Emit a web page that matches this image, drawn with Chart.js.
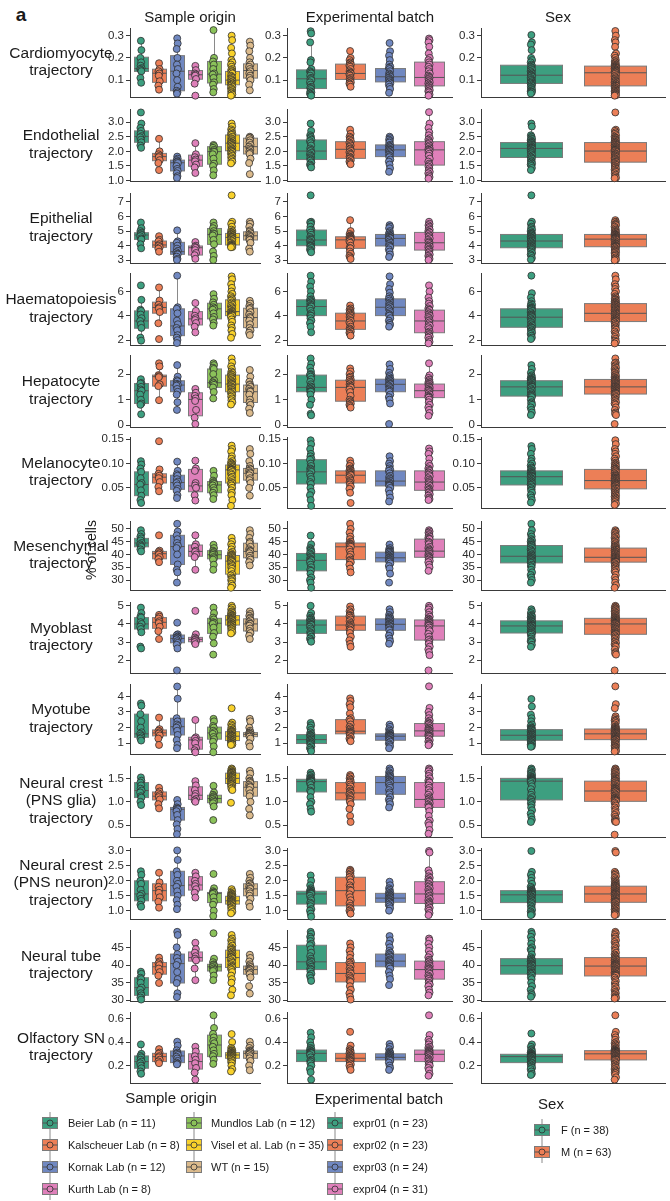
<!DOCTYPE html>
<html><head><meta charset="utf-8">
<script src="https://cdn.jsdelivr.net/npm/chart.js@4.4.1/dist/chart.umd.min.js"></script>
<style>
html,body{margin:0;padding:0;background:#fff;}
#fig{position:relative;width:670px;height:1201px;overflow:hidden;font-family:'Liberation Sans',Arial,Helvetica,sans-serif;color:#1a1a1a;}
.t{position:absolute;white-space:pre-line;text-align:center;transform:translate(-50%,-50%);}
.l{position:absolute;white-space:nowrap;font-size:11px;line-height:14px;}
canvas{position:absolute;}
</style></head><body><div id="fig"></div>
<script>
// ---------- categories ----------
const rowLabels = ["Cardiomyocyte\ntrajectory","Endothelial\ntrajectory","Epithelial\ntrajectory","Haematopoiesis\ntrajectory","Hepatocyte\ntrajectory","Melanocyte\ntrajectory","Mesenchymal\ntrajectory","Myoblast\ntrajectory","Myotube\ntrajectory","Neural crest\n(PNS glia)\ntrajectory","Neural crest\n(PNS neuron)\ntrajectory","Neural tube\ntrajectory","Olfactory SN\ntrajectory"];
const columnTitles = ["Sample origin","Experimental batch","Sex"];
const originGroups = ["Beier Lab","Kalscheuer Lab","Kornak Lab","Kurth Lab","Mundlos Lab","Visel et al. Lab","WT"];
const originN = [11,8,12,8,12,35,15];
const batchGroups = ["expr01","expr02","expr03","expr04"];
const batchN = [23,23,24,31];
const sexGroups = ["F","M"];
const sexN = [38,63];
const originColors = ['#3d9f80','#ec7f57','#7088c1','#df80ba','#8bc25a','#f8d12b','#dbba8c'];
const batchColors = ['#3d9f80','#ec7f57','#7088c1','#df80ba'];
const sexColors = ['#3d9f80','#ec7f57'];

// ---------- y axes: tick labels and limits per row ----------
const yTickLabels = [["0.1","0.2","0.3"],["1.0","1.5","2.0","2.5","3.0"],["3","4","5","6","7"],["2","4","6"],["0","1","2"],["0.05","0.10","0.15"],["30","35","40","45","50"],["2","3","4","5"],["1","2","3","4"],["0.5","1.0","1.5"],["1.0","1.5","2.0","2.5","3.0"],["30","35","40","45"],["0.2","0.4","0.6"]];
const yMin = [0.024,0.986,2.815,1.59,-0.067,0.0086,26.1,1.296,0.31,0.25,0.72,29.8,0.0515];
const yMax = [0.3345,3.448,7.61,7.52,2.745,0.1547,53.1,5.21,4.79,1.763,3.1,49.92,0.656];

// ---------- data: box stats [lower whisker, Q1, median, Q3, upper whisker] and points ----------
// group order: 7 sample origins, 4 batches, F, M
const cardioBox = [[.088,.139,.152,.203,.277],[.057,.09,.131,.149,.176],[.039,.052,.14,.21,.288],[.084,.104,.124,.143,.164],[.045,.087,.127,.184,.325],[.03,.079,.1,.139,.22],[.054,.109,.143,.173,.273],[.03,.062,.106,.146,.27],[.07,.103,.13,.172,.231],[.043,.092,.115,.152,.23],[.03,.074,.112,.181,.287],[.04,.085,.122,.167,.303],[.03,.074,.133,.163,.28]];
const cardioPts = [
[.277,.235,.2,.18,.165,.154,.15,.145,.14,.11,.088],
[.176,.15,.14,.13,.12,.095,.075,.057],
[.288,.265,.24,.2,.17,.15,.13,.1,.07,.052,.045,.039],
[.164,.145,.13,.125,.12,.105,.084,.03],
[.325,.2,.184,.17,.15,.13,.125,.11,.09,.08,.06,.045],
[.3,.28,.245,.22,.19,.18,.17,.16,.15,.145,.14,.135,.13,.12,.115,.11,.105,.1,.1,.095,.09,.09,.085,.08,.08,.075,.07,.065,.06,.055,.05,.045,.04,.035,.03],
[.273,.255,.23,.2,.18,.17,.16,.15,.14,.13,.12,.11,.1,.08,.054],
[.32,.31,.27,.19,.18,.15,.14,.135,.13,.12,.11,.105,.1,.09,.08,.07,.065,.06,.05,.045,.04,.035,.03],
[.231,.2,.19,.18,.175,.17,.165,.16,.15,.14,.135,.13,.13,.125,.12,.11,.105,.1,.095,.09,.085,.08,.07],
[.267,.23,.21,.19,.17,.16,.155,.15,.14,.13,.125,.12,.115,.11,.105,.1,.1,.095,.09,.085,.08,.07,.06,.043],
[.287,.28,.27,.25,.22,.2,.19,.18,.17,.16,.15,.14,.13,.12,.115,.11,.105,.1,.095,.09,.085,.08,.075,.07,.065,.06,.055,.05,.045,.035,.03],
[.303,.27,.26,.235,.2,.19,.18,.17,.165,.16,.155,.15,.145,.14,.135,.13,.125,.122,.12,.115,.11,.105,.1,.1,.095,.09,.085,.085,.08,.075,.07,.065,.06,.055,.05,.048,.045,.04],
[.321,.3,.28,.27,.25,.22,.21,.2,.19,.185,.18,.175,.17,.168,.165,.163,.161,.159,.157,.155,.152,.15,.148,.146,.144,.142,.14,.138,.136,.135,.134,.133,.128,.122,.118,.113,.108,.104,.1,.097,.093,.09,.087,.084,.08,.077,.075,.074,.07,.067,.064,.061,.058,.055,.052,.05,.047,.044,.041,.038,.035,.032,.03]];

const endoBox = [[2.12,2.31,2.51,2.7,2.95],[1.36,1.68,1.82,1.93,2.43],[1.09,1.33,1.61,1.7,1.82],[1.26,1.49,1.7,1.87,2.28],[1.18,1.56,1.99,2.16,2.22],[1.59,2.02,2.28,2.56,2.95],[1.22,1.91,2.16,2.45,2.5],[1.45,1.72,2.01,2.39,2.95],[1.56,1.76,2.07,2.33,2.74],[1.3,1.82,2.05,2.22,2.5],[1.07,1.53,2.05,2.33,3.34],[1.36,1.79,2.1,2.3,2.95],[1.08,1.63,2.01,2.3,2.74]];
const endoPts = [
[3.33,2.95,2.8,2.7,2.6,2.52,2.48,2.4,2.31,2.2,2.12],
[2.43,2.0,1.9,1.84,1.8,1.7,1.6,1.36],
[1.82,1.75,1.7,1.66,1.63,1.6,1.5,1.4,1.33,1.25,1.15,1.09],
[2.28,1.9,1.8,1.72,1.66,1.55,1.45,1.26],
[2.22,2.18,2.12,2.05,2.0,1.98,1.9,1.75,1.58,1.5,1.35,1.18],
[2.95,2.85,2.75,2.7,2.65,2.6,2.58,2.56,2.5,2.45,2.42,2.38,2.35,2.32,2.3,2.28,2.26,2.22,2.2,2.17,2.14,2.1,2.07,2.04,2.02,2.0,1.97,1.93,1.9,1.85,1.8,1.75,1.7,1.65,1.59],
[2.5,2.47,2.45,2.38,2.3,2.22,2.16,2.1,2.05,2.0,1.95,1.91,1.75,1.6,1.22],
[2.95,2.7,2.55,2.5,2.45,2.4,2.35,2.28,2.2,2.1,2.05,2.01,1.95,1.9,1.85,1.8,1.76,1.72,1.68,1.62,1.55,1.5,1.45],
[2.74,2.6,2.5,2.45,2.4,2.35,2.3,2.25,2.2,2.15,2.1,2.07,2.02,1.97,1.92,1.88,1.82,1.78,1.75,1.7,1.65,1.6,1.56],
[2.5,2.45,2.4,2.35,2.3,2.22,2.2,2.17,2.14,2.1,2.07,2.05,2.03,2.0,1.97,1.93,1.88,1.84,1.8,1.72,1.65,1.55,1.42,1.3],
[3.34,2.95,2.8,2.65,2.55,2.45,2.4,2.35,2.3,2.25,2.2,2.15,2.1,2.07,2.05,2.02,1.98,1.92,1.85,1.75,1.65,1.58,1.53,1.48,1.42,1.35,1.3,1.25,1.18,1.12,1.07],
[2.95,2.85,2.55,2.5,2.45,2.42,2.38,2.35,2.32,2.3,2.28,2.25,2.22,2.2,2.18,2.15,2.13,2.11,2.1,2.08,2.05,2.02,2.0,1.97,1.94,1.9,1.86,1.82,1.79,1.75,1.7,1.66,1.62,1.58,1.55,1.5,1.43,1.36],
[3.33,2.74,2.7,2.65,2.6,2.55,2.5,2.47,2.45,2.42,2.4,2.38,2.35,2.33,2.31,2.3,2.28,2.26,2.24,2.22,2.2,2.18,2.16,2.14,2.12,2.1,2.08,2.06,2.05,2.04,2.03,2.02,2.01,1.98,1.95,1.92,1.9,1.87,1.85,1.82,1.8,1.77,1.75,1.72,1.7,1.67,1.64,1.63,1.6,1.57,1.54,1.5,1.47,1.44,1.4,1.37,1.33,1.3,1.25,1.2,1.15,1.1,1.08]];

const epiBox = [[3.82,4.43,4.73,4.89,5.59],[3.59,3.89,4.05,4.32,4.65],[3.02,3.41,3.59,4.23,5.05],[3.1,3.36,3.86,3.98,4.25],[3.02,4.09,4.77,5.18,5.59],[3.89,4.05,4.57,4.84,5.64],[3.59,4.39,4.68,4.95,5.64],[3.55,4.0,4.39,5.07,5.64],[3.09,3.82,4.4,4.61,5.75],[3.23,3.98,4.5,4.77,5.41],[3.02,3.7,4.2,4.91,5.64],[3.05,3.86,4.32,4.77,5.64],[3.0,3.93,4.45,4.77,5.75]];
const epiPts = [
[5.59,5.2,5.0,4.89,4.8,4.73,4.65,4.5,4.43,4.1,3.82],
[4.65,4.4,4.3,4.1,4.0,3.9,3.8,3.59],
[5.05,4.3,4.2,4.0,3.8,3.65,3.55,3.45,3.4,3.25,3.1,3.02],
[4.25,4.0,3.92,3.85,3.7,3.5,3.35,3.1],
[5.59,5.35,5.2,5.0,4.85,4.8,4.7,4.4,4.1,3.6,3.3,3.02],
[7.45,5.64,5.5,5.3,5.1,5.0,4.95,4.9,4.85,4.8,4.78,4.75,4.7,4.66,4.63,4.6,4.58,4.57,4.5,4.45,4.4,4.35,4.3,4.2,4.12,4.08,4.05,4.03,4.0,3.98,3.96,3.95,3.93,3.91,3.89],
[5.64,5.5,5.3,5.05,4.95,4.85,4.75,4.68,4.6,4.5,4.42,4.39,4.2,3.8,3.59],
[7.45,5.64,5.6,5.5,5.3,5.1,5.07,4.9,4.75,4.6,4.5,4.42,4.39,4.3,4.2,4.1,4.03,4.0,3.95,3.85,3.75,3.65,3.55],
[5.75,5.0,4.8,4.7,4.65,4.62,4.6,4.55,4.5,4.47,4.44,4.41,4.4,4.3,4.2,4.0,3.85,3.82,3.6,3.45,3.3,3.2,3.09],
[5.41,5.3,5.2,5.0,4.9,4.8,4.77,4.7,4.65,4.6,4.55,4.52,4.5,4.4,4.3,4.2,4.1,4.0,3.98,3.9,3.75,3.6,3.4,3.23],
[5.64,5.5,5.4,5.3,5.2,5.1,5.0,4.92,4.91,4.8,4.7,4.6,4.5,4.4,4.3,4.22,4.2,4.1,4.0,3.95,3.9,3.8,3.72,3.7,3.6,3.5,3.4,3.3,3.2,3.1,3.02],
[7.45,5.64,5.5,5.3,5.2,5.1,5.0,4.9,4.85,4.8,4.77,4.7,4.65,4.6,4.55,4.5,4.45,4.4,4.35,4.32,4.28,4.22,4.15,4.1,4.05,4.0,3.95,3.9,3.86,3.8,3.75,3.7,3.6,3.5,3.4,3.3,3.15,3.05],
[5.75,5.64,5.6,5.5,5.45,5.4,5.3,5.2,5.1,5.05,5.0,4.95,4.9,4.85,4.8,4.78,4.77,4.75,4.72,4.7,4.68,4.65,4.62,4.6,4.58,4.55,4.53,4.5,4.48,4.47,4.46,4.45,4.44,4.4,4.35,4.3,4.25,4.2,4.15,4.12,4.1,4.06,4.03,4.0,3.98,3.96,3.94,3.93,3.88,3.82,3.75,3.7,3.65,3.6,3.55,3.5,3.42,3.35,3.3,3.2,3.12,3.05,3.0]];

const haemBox = [[1.95,2.97,3.57,4.4,5.31],[3.38,4.21,4.68,5.12,6.33],[1.75,2.36,3.16,4.57,7.3],[2.63,3.24,3.74,4.34,5.05],[3.19,3.74,4.57,5.03,5.78],[2.19,4.01,4.34,5.31,7.24],[2.41,3.02,3.85,4.62,5.23],[2.63,4.01,4.76,5.31,7.3],[2.36,2.88,3.57,4.21,4.84],[3.1,4.01,4.7,5.39,7.24],[1.72,2.6,3.57,4.46,6.5],[2.08,3.05,3.88,4.57,5.86],[1.72,3.52,4.2,5.0,7.3]];
const haemPts = [
[6.5,5.31,4.5,4.4,4.1,3.8,3.57,3.3,3.0,2.2,1.95],
[6.33,5.25,4.9,4.7,4.6,4.3,3.38,2.08],
[7.3,4.7,4.57,4.2,3.6,3.3,3.0,2.8,2.4,2.2,2.0,1.75],
[5.05,4.4,4.0,3.8,3.65,3.4,3.1,2.63],
[5.78,5.4,5.1,4.9,4.7,4.6,4.5,4.2,3.9,3.7,3.4,3.19],
[7.24,7.0,6.6,6.3,6.0,5.8,5.6,5.45,5.35,5.25,5.1,5.0,4.9,4.8,4.7,4.6,4.5,4.4,4.34,4.3,4.25,4.2,4.15,4.1,4.05,4.02,4.0,3.9,3.7,3.5,3.2,3.0,2.8,2.5,2.19],
[5.23,5.0,4.8,4.65,4.55,4.3,4.1,3.9,3.8,3.6,3.3,3.0,2.8,2.6,2.41],
[7.3,6.8,6.4,6.0,5.6,5.35,5.3,5.2,5.1,5.0,4.9,4.8,4.76,4.6,4.4,4.2,4.05,4.0,3.8,3.6,3.4,3.1,2.63],
[4.84,4.6,4.5,4.4,4.3,4.22,4.2,4.1,4.0,3.9,3.8,3.65,3.57,3.45,3.3,3.1,2.95,2.88,2.8,2.7,2.6,2.5,2.36],
[7.24,6.6,6.2,5.9,5.6,5.45,5.39,5.25,5.1,5.0,4.9,4.8,4.7,4.6,4.45,4.3,4.15,4.05,4.0,3.8,3.6,3.4,3.25,3.1],
[6.5,6.0,5.5,5.2,5.0,4.8,4.6,4.5,4.46,4.3,4.2,4.1,4.0,3.9,3.8,3.65,3.57,3.45,3.3,3.2,3.05,2.9,2.7,2.6,2.5,2.4,2.3,2.2,2.0,1.85,1.72],
[7.3,5.86,5.5,5.2,5.0,4.9,4.8,4.7,4.65,4.6,4.57,4.5,4.4,4.3,4.2,4.1,4.05,4.0,3.95,3.88,3.8,3.7,3.6,3.5,3.4,3.3,3.2,3.1,3.05,3.0,2.9,2.8,2.7,2.6,2.5,2.35,2.2,2.08],
[7.3,7.0,6.6,6.4,6.2,6.0,5.8,5.6,5.5,5.4,5.35,5.3,5.2,5.15,5.1,5.05,5.0,4.95,4.9,4.85,4.8,4.75,4.7,4.65,4.6,4.55,4.5,4.45,4.4,4.35,4.3,4.25,4.2,4.15,4.1,4.05,4.0,3.95,3.9,3.85,3.8,3.75,3.7,3.65,3.6,3.57,3.54,3.52,3.45,3.35,3.25,3.15,3.05,2.95,2.85,2.7,2.55,2.4,2.25,2.1,1.95,1.85,1.72]];

const hepaBox = [[0.43,0.85,1.35,1.63,1.8],[0.98,1.53,1.9,1.96,2.42],[0.6,1.31,1.57,1.74,2.35],[0.05,0.37,1.01,1.27,1.42],[1.05,1.48,1.66,2.2,2.42],[0.81,1.31,1.61,1.96,2.61],[0.48,0.89,1.31,1.57,2.16],[0.39,1.31,1.48,1.96,2.61],[0.69,0.94,1.48,1.76,2.22],[0.85,1.31,1.6,1.8,2.38],[0.37,1.08,1.35,1.61,2.42],[0.4,1.14,1.5,1.74,2.35],[0.4,1.22,1.5,1.79,2.61]];
const hepaPts = [
[1.8,1.65,1.63,1.5,1.4,1.35,1.2,1.0,0.85,0.8,0.43],
[2.42,2.3,1.96,1.92,1.88,1.6,1.53,0.98],
[2.35,1.9,1.76,1.72,1.62,1.58,1.55,1.42,1.31,1.2,0.9,0.6],
[1.42,1.27,1.15,1.05,0.95,0.6,0.3,0.05],
[2.42,2.35,2.25,2.2,2.0,1.75,1.68,1.64,1.58,1.48,1.3,1.05],
[2.61,2.45,2.3,2.2,2.1,2.05,2.0,1.98,1.96,1.92,1.88,1.84,1.8,1.76,1.72,1.68,1.65,1.62,1.6,1.57,1.53,1.5,1.46,1.42,1.38,1.33,1.31,1.27,1.22,1.17,1.12,1.05,0.98,0.9,0.81],
[2.16,1.9,1.7,1.6,1.57,1.5,1.42,1.35,1.31,1.2,1.0,0.89,0.8,0.65,0.48],
[2.61,2.4,2.25,2.1,2.0,1.97,1.96,1.9,1.8,1.7,1.6,1.52,1.48,1.44,1.4,1.35,1.32,1.31,1.2,1.0,0.8,0.45,0.39],
[2.22,2.1,2.0,1.9,1.85,1.78,1.76,1.7,1.65,1.6,1.55,1.5,1.48,1.4,1.3,1.15,1.0,0.94,0.9,0.85,0.8,0.75,0.69],
[2.38,2.2,2.05,1.95,1.88,1.82,1.8,1.76,1.72,1.68,1.64,1.61,1.6,1.55,1.5,1.45,1.4,1.35,1.31,1.2,1.1,1.0,0.85,0.05],
[2.42,1.95,1.85,1.78,1.72,1.68,1.65,1.62,1.61,1.57,1.53,1.5,1.46,1.42,1.38,1.36,1.35,1.3,1.25,1.2,1.15,1.12,1.09,1.08,1.0,0.9,0.8,0.7,0.6,0.48,0.37],
[2.35,2.2,2.05,1.95,1.9,1.85,1.82,1.8,1.78,1.76,1.74,1.7,1.67,1.64,1.61,1.58,1.55,1.53,1.51,1.5,1.45,1.4,1.35,1.3,1.25,1.2,1.17,1.15,1.14,1.1,1.0,0.9,0.85,0.8,0.7,0.6,0.5,0.4],
[2.61,2.45,2.42,2.35,2.3,2.25,2.2,2.15,2.1,2.05,2.0,1.96,1.92,1.88,1.85,1.82,1.79,1.77,1.75,1.73,1.71,1.69,1.67,1.65,1.63,1.61,1.59,1.57,1.55,1.53,1.52,1.51,1.5,1.47,1.45,1.43,1.41,1.39,1.37,1.35,1.33,1.31,1.29,1.27,1.25,1.24,1.23,1.22,1.18,1.14,1.1,1.05,1.0,0.95,0.9,0.85,0.8,0.7,0.6,0.5,0.45,0.4,0.05]];

const melaBox = [[.019,.034,.057,.083,.105],[.043,.06,.072,.079,.088],[.029,.047,.061,.076,.104],[.024,.042,.054,.088,.106],[.027,.04,.056,.063,.085],[.013,.06,.087,.097,.137],[.034,.066,.08,.09,.13],[.013,.058,.083,.108,.148],[.04,.06,.076,.085,.106],[.022,.054,.064,.085,.115],[.025,.045,.062,.085,.131],[.02,.056,.073,.085,.136],[.015,.048,.065,.088,.148]];
const melaPts = [
[.105,.098,.09,.083,.07,.06,.057,.045,.034,.025,.019],
[.146,.088,.079,.075,.07,.062,.052,.043],
[.104,.085,.078,.075,.068,.063,.06,.055,.048,.044,.035,.029],
[.106,.09,.085,.06,.055,.05,.035,.024],
[.085,.075,.065,.062,.06,.058,.055,.05,.045,.04,.035,.027],
[.137,.13,.125,.115,.11,.105,.102,.1,.098,.097,.095,.093,.092,.09,.089,.088,.087,.087,.086,.083,.08,.077,.073,.07,.066,.062,.06,.058,.055,.05,.045,.04,.035,.025,.013],
[.13,.12,.105,.095,.09,.088,.085,.082,.08,.076,.07,.066,.06,.05,.034],
[.148,.14,.13,.12,.115,.11,.108,.1,.095,.09,.088,.085,.083,.078,.073,.068,.062,.058,.05,.042,.035,.025,.013],
[.106,.1,.095,.09,.088,.086,.085,.083,.081,.08,.078,.077,.076,.072,.068,.065,.062,.06,.057,.053,.048,.04,.019],
[.115,.105,.1,.095,.09,.087,.085,.08,.075,.072,.069,.066,.064,.062,.06,.058,.056,.055,.054,.05,.045,.038,.03,.022],
[.131,.125,.12,.11,.1,.095,.09,.087,.085,.082,.08,.077,.074,.07,.067,.064,.062,.06,.057,.054,.051,.048,.046,.045,.042,.04,.037,.034,.03,.027,.025],
[.136,.13,.12,.11,.105,.1,.096,.092,.09,.087,.085,.083,.081,.08,.079,.078,.076,.075,.074,.073,.071,.069,.067,.065,.063,.061,.059,.057,.056,.053,.05,.047,.044,.04,.035,.03,.025,.02],
[.148,.14,.13,.125,.12,.115,.11,.106,.102,.1,.098,.096,.094,.092,.09,.089,.088,.086,.084,.082,.08,.078,.076,.075,.074,.072,.071,.07,.069,.068,.067,.066,.065,.064,.063,.062,.061,.06,.059,.058,.057,.056,.055,.054,.052,.05,.049,.048,.046,.044,.042,.04,.038,.036,.034,.032,.03,.028,.026,.024,.021,.018,.015]];

const mesBox = [[41.2,43,44.5,46.3,49.5],[37,38.3,40.3,41.2,41.5],[29,36.1,43.1,47.5,52],[34,39.3,41.2,43.7,47.5],[34,38.3,39.9,41.5,43.8],[27,32.3,37.4,39.6,46.5],[35.7,38.7,41.2,44.4,49.5],[27,33.6,37.7,40.4,47.4],[33,38,43,44.5,52],[32.5,37.1,38.7,40.9,43.9],[33.6,38.9,41.3,46,49.5],[29,36.7,39.3,43.5,52],[27,37,38.9,42.5,49.5]];
const mesPts = [
[49.5,48,47,46.3,45.5,44.5,44,43.5,43,42,41.2],
[47.5,41.5,41,40.5,40,39,38.2,37],
[52,49,47.5,46,44.5,43.5,42.5,40,36.1,34,33,29],
[47.5,44,43,41.5,41,40,39,34],
[43.8,42.5,41.5,41,40.5,40,39.8,39,38.5,38,36,34],
[46.5,45,44,43,42,41,40.5,40,39.8,39.6,39.3,39,38.7,38.4,38.1,37.9,37.7,37.5,37.4,37,36.5,36,35.5,35,34.4,33.5,32.3,31.8,31,30.5,30,29.5,28.5,27.8,27],
[49.5,48,46.5,45,44.4,43,42,41.5,41.2,40.5,39.5,38.7,38,37,35.7],
[47.4,44,42.5,42,41.5,41,40.4,39.8,39.2,38.6,38.2,37.9,37.7,37,36,35,34,33.6,32.5,31,30,29,27],
[52,50,48.5,47,46,45,44.5,44.2,44,43.7,43.4,43.2,43,42,41,40,39,38,37.5,37,36,34.5,33],
[43.9,42.5,42,41.6,41.2,41,40.9,40.5,40,39.6,39.2,38.9,38.7,38.5,38.2,38,37.7,37.4,37.1,36.5,35.5,34.5,32.5,29],
[49.5,49,48.5,48,47.5,47,46.5,46.2,46,45,44.5,44,43,42.5,42,41.6,41.3,41,40.5,40.2,39.8,39.4,39,38.9,38.5,38,37.5,37,36,35,33.6],
[52,49.5,48,47,46,45.5,45,44.5,44,43.8,43.5,43,42.5,42,41.5,41,40.5,40,39.6,39.3,39,38.8,38.6,38.3,38,37.7,37.3,37,36.7,36,35.5,35,34,33,32,31,30,29],
[49.5,49,48.5,48,47.5,47,46.5,46,45.5,45,44.5,44,43.5,43.2,43,42.7,42.5,42.2,42,41.8,41.5,41.2,41,40.7,40.5,40.2,40,39.8,39.5,39.3,39.1,39,38.9,38.7,38.5,38.4,38.3,38.2,38.1,38,37.9,37.8,37.6,37.5,37.3,37.2,37.1,37,36.6,36.2,35.8,35.4,35,34.5,34,33.5,33,32,31,30,29,28,27]];

const myobBox = [[3.54,3.72,4.0,4.35,4.9],[3.17,3.76,4.09,4.35,4.5],[2.65,2.96,3.2,3.39,3.43],[2.89,3.02,3.15,3.26,3.43],[2.93,3.48,4.04,4.31,4.9],[3.48,3.94,4.22,4.46,5.0],[3.17,3.61,4.0,4.28,4.69],[3.02,3.48,3.94,4.22,5.0],[2.74,3.65,3.94,4.43,4.96],[2.91,3.65,3.98,4.28,4.81],[2.28,3.11,3.89,4.22,5.0],[2.74,3.5,3.89,4.17,4.81],[2.31,3.43,4.0,4.31,5.0]];
const myobPts = [
[4.9,4.6,4.4,4.35,4.1,4.0,3.85,3.72,3.54,2.75,2.65],
[4.5,4.4,4.3,4.15,4.05,3.85,3.6,3.17],
[4.07,3.43,3.38,3.3,3.25,3.2,3.15,3.05,2.96,2.85,2.65,1.44],
[4.72,3.43,3.25,3.18,3.12,3.05,3.0,2.89],
[4.9,4.6,4.35,4.25,4.1,4.05,4.0,3.8,3.5,3.3,2.93,2.31],
[5.0,4.9,4.8,4.7,4.65,4.6,4.55,4.5,4.47,4.45,4.42,4.38,4.35,4.32,4.3,4.27,4.25,4.22,4.2,4.16,4.12,4.08,4.04,4.0,3.97,3.95,3.93,3.9,3.85,3.8,3.75,3.7,3.62,3.55,3.48],
[4.69,4.55,4.45,4.35,4.28,4.2,4.1,4.02,4.0,3.9,3.75,3.61,3.5,3.35,3.17],
[5.0,4.6,4.45,4.35,4.28,4.24,4.22,4.15,4.1,4.05,4.0,3.96,3.94,3.85,3.75,3.65,3.55,3.48,3.4,3.3,3.2,3.1,3.02],
[4.96,4.8,4.7,4.6,4.5,4.45,4.43,4.35,4.25,4.15,4.05,3.98,3.94,3.9,3.85,3.78,3.7,3.65,3.5,3.3,3.1,2.9,2.74],
[4.81,4.65,4.5,4.42,4.35,4.3,4.28,4.22,4.15,4.1,4.05,4.0,3.98,3.94,3.9,3.85,3.78,3.7,3.65,3.5,3.35,3.2,3.05,2.91],
[5.0,4.9,4.8,4.65,4.5,4.4,4.3,4.25,4.22,4.18,4.12,4.08,4.04,4.0,3.96,3.92,3.89,3.8,3.7,3.6,3.45,3.3,3.15,3.11,3.0,2.9,2.75,2.6,2.45,2.28,1.44],
[4.81,4.7,4.6,4.5,4.45,4.4,4.35,4.3,4.25,4.2,4.17,4.14,4.1,4.06,4.02,3.98,3.95,3.92,3.9,3.89,3.85,3.8,3.75,3.7,3.65,3.6,3.55,3.52,3.5,3.45,3.4,3.3,3.2,3.1,3.05,3.0,2.85,2.74],
[5.0,4.95,4.9,4.85,4.8,4.75,4.7,4.65,4.6,4.55,4.5,4.46,4.42,4.38,4.35,4.33,4.31,4.28,4.25,4.22,4.2,4.18,4.15,4.12,4.1,4.08,4.06,4.04,4.03,4.02,4.01,4.0,3.98,3.94,3.9,3.86,3.82,3.78,3.74,3.7,3.66,3.62,3.58,3.54,3.5,3.47,3.45,3.43,3.38,3.32,3.25,3.18,3.1,3.02,2.95,2.88,2.8,2.74,2.6,2.45,2.38,2.31,1.44]];

const myotBox = [[1.17,1.38,1.6,2.86,3.55],[0.89,1.47,1.66,1.85,2.64],[0.68,1.53,2.06,2.6,4.63],[0.42,0.62,1.21,1.38,2.49],[0.42,1.26,1.66,2.03,2.56],[0.89,1.17,1.45,1.74,2.32],[0.79,1.42,1.57,1.68,2.0],[0.49,0.98,1.23,1.55,2.3],[1.13,1.6,1.77,2.51,3.87],[0.68,1.19,1.45,1.6,2.19],[0.87,1.45,1.79,2.26,3.26],[0.77,1.19,1.51,1.87,2.83],[0.47,1.23,1.6,1.91,2.72]];
const myotPts = [
[3.55,3.4,2.86,2.4,2.0,1.7,1.6,1.5,1.38,1.3,1.17],
[2.64,1.9,1.8,1.7,1.62,1.5,1.3,0.89],
[4.63,3.85,2.6,2.4,2.2,2.1,2.0,1.8,1.53,1.2,0.9,0.68],
[2.49,1.38,1.3,1.15,1.0,0.7,0.55,0.42],
[2.56,2.4,2.1,2.0,1.8,1.7,1.6,1.4,1.26,1.1,0.8,0.42],
[3.24,2.32,2.2,2.1,2.0,1.9,1.85,1.8,1.76,1.74,1.7,1.65,1.6,1.56,1.53,1.5,1.48,1.46,1.45,1.42,1.38,1.34,1.3,1.26,1.22,1.18,1.17,1.14,1.1,1.06,1.02,0.98,0.95,0.92,0.89],
[2.56,2.4,2.0,1.8,1.7,1.68,1.63,1.6,1.57,1.52,1.46,1.42,1.3,1.0,0.79],
[2.3,2.15,2.0,1.85,1.7,1.6,1.55,1.5,1.45,1.4,1.33,1.27,1.23,1.18,1.12,1.06,1.0,0.98,0.9,0.8,0.7,0.6,0.49],
[3.87,3.7,3.5,3.3,2.9,2.6,2.51,2.4,2.2,2.05,1.95,1.85,1.77,1.74,1.7,1.66,1.62,1.6,1.5,1.4,1.3,1.2,1.13],
[2.19,2.05,1.9,1.8,1.7,1.64,1.6,1.57,1.54,1.52,1.5,1.47,1.45,1.42,1.38,1.33,1.27,1.22,1.19,1.1,1.0,0.9,0.8,0.68],
[4.64,3.26,3.0,2.8,2.6,2.45,2.35,2.28,2.26,2.2,2.1,2.0,1.95,1.9,1.85,1.81,1.79,1.72,1.66,1.6,1.55,1.5,1.47,1.45,1.4,1.3,1.2,1.1,1.0,0.95,0.87],
[3.83,3.35,2.83,2.6,2.4,2.2,2.1,2.0,1.95,1.9,1.87,1.83,1.78,1.73,1.68,1.63,1.58,1.55,1.52,1.51,1.48,1.44,1.4,1.36,1.32,1.28,1.24,1.21,1.19,1.15,1.1,1.05,1.0,0.95,0.9,0.85,0.8,0.77],
[4.64,3.5,3.24,2.72,2.6,2.5,2.45,2.4,2.3,2.2,2.1,2.05,2.0,1.97,1.94,1.92,1.91,1.88,1.86,1.84,1.82,1.8,1.78,1.76,1.74,1.72,1.7,1.68,1.66,1.64,1.62,1.61,1.6,1.57,1.54,1.51,1.48,1.45,1.42,1.39,1.36,1.33,1.31,1.29,1.27,1.25,1.24,1.23,1.18,1.13,1.08,1.03,0.98,0.93,0.88,0.83,0.78,0.73,0.68,0.62,0.56,0.5,0.47]];

const gliaBox = [[0.93,1.09,1.24,1.41,1.52],[0.86,1.04,1.12,1.21,1.3],[0.31,0.61,0.84,0.88,1.04],[1.0,1.05,1.14,1.32,1.44],[0.9,0.98,1.07,1.14,1.34],[1.25,1.39,1.5,1.61,1.71],[0.71,1.12,1.31,1.43,1.66],[0.79,1.21,1.43,1.48,1.62],[0.57,1.04,1.19,1.41,1.57],[0.88,1.16,1.41,1.54,1.71],[0.32,0.88,1.05,1.41,1.71],[0.57,1.04,1.44,1.5,1.71],[0.57,1.01,1.23,1.44,1.71]];
const gliaPts = [
[1.52,1.45,1.41,1.35,1.28,1.24,1.2,1.12,1.09,1.0,0.93],
[1.3,1.22,1.18,1.14,1.1,1.05,0.95,0.86],
[1.04,0.95,0.88,0.86,0.85,0.84,0.8,0.72,0.61,0.52,0.42,0.31],
[1.44,1.35,1.25,1.17,1.12,1.06,1.03,1.0],
[1.34,1.2,1.15,1.12,1.1,1.08,1.06,1.03,1.0,0.97,0.9,0.61],
[1.71,1.69,1.67,1.65,1.64,1.63,1.62,1.61,1.61,1.6,1.58,1.57,1.56,1.55,1.54,1.53,1.52,1.51,1.5,1.49,1.47,1.46,1.45,1.43,1.42,1.4,1.39,1.38,1.37,1.35,1.33,1.3,1.28,1.25,0.98],
[1.66,1.6,1.5,1.45,1.43,1.4,1.36,1.33,1.31,1.25,1.18,1.12,1.0,0.85,0.71],
[1.62,1.58,1.55,1.52,1.5,1.49,1.48,1.47,1.46,1.45,1.44,1.43,1.43,1.4,1.36,1.3,1.24,1.21,1.1,1.0,0.95,0.85,0.79],
[1.57,1.54,1.5,1.47,1.44,1.42,1.41,1.37,1.33,1.28,1.24,1.21,1.19,1.16,1.13,1.1,1.06,1.04,1.0,0.95,0.85,0.7,0.57],
[1.71,1.67,1.63,1.6,1.57,1.55,1.54,1.52,1.5,1.47,1.45,1.43,1.41,1.38,1.34,1.3,1.25,1.2,1.16,1.1,1.05,1.0,0.95,0.88],
[1.71,1.68,1.65,1.6,1.55,1.5,1.45,1.42,1.41,1.35,1.3,1.25,1.2,1.15,1.1,1.07,1.05,1.02,1.0,0.97,0.94,0.91,0.89,0.88,0.8,0.7,0.6,0.55,0.5,0.4,0.32],
[1.71,1.68,1.65,1.62,1.6,1.57,1.55,1.53,1.52,1.51,1.5,1.49,1.48,1.47,1.47,1.46,1.45,1.45,1.44,1.44,1.42,1.38,1.33,1.27,1.2,1.15,1.1,1.06,1.04,1.0,0.97,0.93,0.88,0.82,0.75,0.68,0.62,0.57],
[1.71,1.69,1.67,1.65,1.63,1.61,1.59,1.57,1.55,1.53,1.51,1.5,1.49,1.47,1.46,1.45,1.44,1.42,1.4,1.38,1.36,1.34,1.32,1.3,1.29,1.28,1.27,1.26,1.25,1.24,1.23,1.23,1.22,1.2,1.18,1.16,1.14,1.12,1.1,1.09,1.08,1.07,1.06,1.05,1.04,1.03,1.02,1.01,0.98,0.95,0.92,0.88,0.84,0.8,0.76,0.72,0.68,0.64,0.61,0.59,0.58,0.57,0.3]];

const neurBox = [[1.13,1.33,1.56,2.0,2.32],[1.1,1.33,1.67,1.9,2.27],[1.05,1.5,1.84,2.32,3.02],[1.44,1.69,1.86,2.14,2.27],[0.82,1.27,1.58,1.61,1.75],[0.91,1.22,1.33,1.48,1.72],[1.13,1.5,1.73,1.9,2.23],[0.8,1.22,1.56,1.65,2.18],[0.9,1.16,1.67,2.12,2.37],[1.0,1.28,1.42,1.58,1.97],[0.85,1.24,1.56,1.97,3.0],[0.85,1.27,1.53,1.67,2.3],[0.85,1.28,1.56,1.82,2.3]];
const neurPts = [
[2.32,2.2,2.0,1.9,1.7,1.56,1.5,1.4,1.33,1.2,1.13],
[2.27,1.95,1.8,1.7,1.6,1.45,1.3,1.1],
[3.02,2.7,2.32,2.2,2.0,1.9,1.8,1.65,1.5,1.35,1.2,1.05],
[2.27,2.15,2.0,1.9,1.82,1.72,1.6,1.44],
[2.23,1.75,1.65,1.61,1.6,1.59,1.56,1.45,1.3,1.2,1.0,0.82],
[1.72,1.65,1.6,1.57,1.55,1.53,1.51,1.5,1.49,1.48,1.46,1.44,1.42,1.4,1.38,1.36,1.35,1.34,1.33,1.32,1.31,1.3,1.28,1.27,1.25,1.23,1.22,1.2,1.17,1.14,1.1,1.06,1.02,0.96,0.91],
[2.23,2.1,2.0,1.92,1.9,1.85,1.8,1.75,1.73,1.65,1.58,1.5,1.4,1.25,1.13],
[2.18,2.0,1.85,1.75,1.7,1.67,1.65,1.63,1.61,1.6,1.58,1.57,1.56,1.5,1.42,1.35,1.27,1.22,1.15,1.05,1.0,0.9,0.8],
[2.37,2.33,2.3,2.25,2.2,2.15,2.12,2.05,1.95,1.85,1.78,1.7,1.67,1.55,1.45,1.35,1.25,1.16,1.1,1.05,1.0,0.95,0.9],
[1.97,1.85,1.75,1.7,1.65,1.6,1.58,1.55,1.52,1.5,1.47,1.44,1.42,1.4,1.38,1.35,1.32,1.3,1.28,1.24,1.2,1.15,1.08,1.0],
[3.0,2.95,2.35,2.25,2.15,2.1,2.05,2.0,1.97,1.9,1.85,1.8,1.75,1.7,1.65,1.6,1.56,1.5,1.45,1.4,1.35,1.3,1.26,1.24,1.2,1.15,1.1,1.05,1.0,0.92,0.85],
[3.0,2.3,2.2,2.1,2.0,1.9,1.8,1.75,1.7,1.68,1.67,1.65,1.63,1.61,1.6,1.58,1.56,1.55,1.54,1.53,1.5,1.47,1.44,1.41,1.38,1.35,1.32,1.29,1.27,1.22,1.17,1.12,1.07,1.02,0.97,0.92,0.88,0.85],
[3.0,2.95,2.3,2.25,2.2,2.15,2.1,2.05,2.0,1.97,1.94,1.91,1.88,1.86,1.84,1.83,1.82,1.8,1.78,1.76,1.74,1.72,1.7,1.68,1.66,1.64,1.62,1.6,1.59,1.58,1.57,1.56,1.55,1.53,1.51,1.49,1.47,1.45,1.43,1.41,1.39,1.37,1.35,1.33,1.31,1.3,1.29,1.28,1.25,1.22,1.19,1.16,1.13,1.1,1.07,1.04,1.01,0.98,0.95,0.92,0.9,0.87,0.85]];

const tubeBox = [[30.2,31.4,33.6,36.4,38.1],[34.9,37.4,39.5,40.7,42.1],[30.9,34.9,40.4,43.1,49.4],[35.7,41.1,42.1,43.7,46.3],[35.7,38.3,39.5,40.2,41.8],[33,39.3,42.1,44.2,48.5],[34,37.4,38.7,39.7,42.9],[35.5,38.7,40.9,45.6,49.4],[30.2,35.2,37.6,40.7,46.1],[34.3,39.5,41.1,43.1,48.2],[31.4,36,38.7,41.1,47.5],[31,37.4,39.8,41.8,49.4],[30.5,36.9,39.7,42.1,49.4]];
const tubePts = [
[38.1,37.5,36.4,36,35,33.6,33,32,31.4,30.8,30.2],
[42.1,41,40.5,40,39,38,37,34.9],
[49.4,48.5,45,43.1,42,41,40,38,36,34.9,32,30.9],
[46.3,44.5,43.5,42.5,41.8,41.3,39,35.7],
[49,41.8,40.8,40.2,40,39.7,39.4,39,38.6,38.3,37,35.7],
[48.5,47.5,47,46.5,46,45.5,45,44.6,44.3,44.2,43.8,43.5,43.2,43,42.8,42.5,42.3,42.1,42.1,41.8,41.4,41,40.6,40.2,39.8,39.5,39.3,39,38.6,38,37,36,35,33,31.4],
[42.9,42,41,40.2,39.7,39.4,39,38.8,38.7,38.3,37.8,37.4,36.5,34,31.9],
[49.4,48.8,48,47.5,46.8,46,45.6,44.5,43.5,42.5,41.8,41.2,40.9,40.5,40,39.5,39,38.7,38.2,37.5,37,36.3,35.5],
[46.1,45,44,43,42,41,40.7,40.2,39.6,39,38.5,38,37.6,37,36.5,36,35.5,35.2,34,33,32,31,30.2],
[48.2,47,46,45,44,43.5,43.1,42.8,42.4,42,41.6,41.3,41.1,40.8,40.5,40.2,39.9,39.7,39.5,39,38,37,36,34.3],
[47.5,47,46,45,44,43,42.2,41.5,41.1,40.8,40.4,40,39.7,39.4,39.1,38.9,38.7,38.3,37.9,37.5,37,36.6,36.2,36,35.5,35,34.5,34,33,32.2,31.4],
[49.4,48.8,48,47,46,45,44.5,44,43,42.2,41.8,41.5,41.2,41,40.8,40.5,40.3,40.1,39.9,39.8,39.5,39.2,38.9,38.6,38.3,38,37.8,37.6,37.4,37,36.5,36,35,34,33,32,31.5,31],
[49.4,49,48.5,48,47.5,47,46.5,46,45.5,45,44.5,44,43.5,43,42.7,42.4,42.1,41.9,41.7,41.5,41.3,41.1,40.9,40.7,40.5,40.3,40.2,40.1,40,39.9,39.8,39.7,39.6,39.4,39.2,39,38.8,38.6,38.4,38.2,38,37.8,37.6,37.4,37.2,37.1,37,36.9,36.4,35.9,35.4,34.9,34.4,33.9,33.4,32.9,32.4,32,31.6,31.2,30.9,30.7,30.5]];

const olfBox = [[.13,.177,.234,.282,.38],[.22,.234,.276,.304,.34],[.21,.225,.282,.324,.403],[.08,.17,.234,.3,.36],[.214,.276,.375,.459,.628],[.2,.262,.29,.31,.35],[.16,.262,.304,.324,.403],[.144,.234,.304,.332,.48],[.163,.234,.262,.304,.37],[.163,.248,.27,.3,.383],[.113,.234,.296,.332,.46],[.12,.225,.276,.296,.38],[.135,.248,.3,.327,.44]];
const olfPts = [
[.38,.3,.282,.27,.25,.234,.22,.2,.177,.15,.13],
[.34,.31,.3,.28,.27,.25,.235,.22],
[.403,.37,.33,.31,.3,.29,.275,.26,.24,.225,.215,.21],
[.36,.32,.28,.25,.22,.18,.14,.08],
[.628,.52,.47,.44,.41,.39,.36,.33,.3,.28,.25,.214],
[.468,.4,.35,.34,.33,.325,.32,.315,.31,.308,.305,.302,.3,.298,.296,.294,.292,.29,.29,.287,.284,.28,.277,.274,.27,.266,.262,.258,.25,.24,.23,.22,.2,.17,.15],
[.403,.37,.35,.33,.324,.318,.312,.306,.304,.295,.28,.262,.24,.2,.16],
[.48,.44,.4,.37,.35,.34,.332,.325,.318,.312,.308,.305,.304,.29,.27,.25,.24,.234,.22,.2,.17,.144,.08],
[.487,.37,.34,.33,.32,.31,.304,.295,.285,.278,.272,.266,.262,.255,.25,.245,.24,.234,.22,.21,.2,.18,.163],
[.383,.36,.34,.32,.31,.305,.3,.295,.29,.285,.28,.275,.27,.267,.264,.26,.255,.25,.248,.24,.225,.2,.18,.163],
[.628,.46,.42,.4,.38,.36,.35,.34,.332,.325,.32,.315,.31,.305,.3,.298,.296,.29,.28,.27,.26,.25,.24,.234,.22,.21,.2,.18,.16,.13,.113],
[.473,.38,.36,.34,.33,.32,.31,.305,.3,.298,.296,.294,.29,.288,.285,.282,.28,.278,.277,.276,.27,.265,.26,.255,.25,.245,.24,.23,.225,.22,.21,.2,.19,.18,.17,.15,.13,.12],
[.628,.487,.46,.44,.42,.4,.39,.38,.37,.36,.35,.345,.34,.335,.33,.328,.327,.325,.322,.32,.318,.316,.314,.312,.31,.308,.306,.305,.304,.303,.302,.301,.3,.296,.292,.288,.284,.28,.276,.272,.268,.264,.26,.256,.253,.25,.249,.248,.24,.23,.22,.21,.2,.19,.18,.17,.16,.15,.14,.135,.12,.1,.08]];

const rowBoxes = [cardioBox,endoBox,epiBox,haemBox,hepaBox,melaBox,mesBox,myobBox,myotBox,gliaBox,neurBox,tubeBox,olfBox];
const rowPoints = [cardioPts,endoPts,epiPts,haemPts,hepaPts,melaPts,mesPts,myobPts,myotPts,gliaPts,neurPts,tubePts,olfPts];

// ---------- layout (pixels) ----------
const FONT = "'Liberation Sans', Arial, Helvetica, sans-serif";
const PANEL_TOP = [28,109,193,273,355,437,521,602,684,766,848,930,1012];
const PANEL_BOTTOM = [97,181,263,345,427,508,590,673,754,837,919,1001,1083];
const COL_AXIS_X = [130,287,481];
const COL_RIGHT = [261,453,670];
const Y_AXIS_W = 46, PAD = 9;
const JITTER_PX = [0,0.5,-0.5,0.25,-0.25,0.7,-0.7];
const colGroups = [[0,1,2,3,4,5,6],[7,8,9,10],[11,12]];
const colColors = [originColors,batchColors,sexColors];

const fig = document.getElementById('fig');

function boxPlugin(stats, colors) {
  return {
    id: 'boxes',
    beforeDatasetsDraw(chart) {
      const {ctx} = chart; const xs = chart.scales.x, ys = chart.scales.y;
      stats.forEach((b, k) => {
        const cx = Math.round(xs.getPixelForValue(k + 1)) + 0.5;
        const hw = Math.round(xs.getPixelForValue(k + 1.375) - xs.getPixelForValue(k + 1));
        const [lo, q1, md, q3, hi] = b.map(v => ys.getPixelForValue(v));
        ctx.save();
        ctx.lineWidth = 1;
        ctx.strokeStyle = '#8a8a8a';
        ctx.beginPath();
        ctx.moveTo(cx, lo); ctx.lineTo(cx, q1);
        ctx.moveTo(cx, q3); ctx.lineTo(cx, hi);
        ctx.stroke();
        ctx.fillStyle = colors[k];
        ctx.fillRect(cx - hw, q3, 2 * hw, q1 - q3);
        ctx.strokeStyle = '#7a7a7a';
        ctx.strokeRect(cx - hw, q3, 2 * hw, q1 - q3);
        ctx.strokeStyle = '#555555';
        ctx.beginPath(); ctx.moveTo(cx - hw, md); ctx.lineTo(cx + hw, md); ctx.stroke();
        ctx.restore();
      });
    }
  };
}

for (let r = 0; r < 13; r++) {
  const tickLabels = yTickLabels[r];
  const tickVals = tickLabels.map(Number);
  for (let c = 0; c < 3; c++) {
    const groups = colGroups[c];
    const nG = groups.length;
    const plotW = COL_RIGHT[c] - COL_AXIS_X[c];
    const padR = c === 2 ? 0 : 4;
    const w = Y_AXIS_W + plotW + padR;
    const h = PANEL_BOTTOM[r] - PANEL_TOP[r] + 2 * PAD;
    const cv = document.createElement('canvas');
    cv.width = w; cv.height = h;
    cv.style.left = (COL_AXIS_X[c] - Y_AXIS_W) + 'px';
    cv.style.top = (PANEL_TOP[r] - PAD) + 'px';
    cv.style.width = w + 'px'; cv.style.height = h + 'px';
    fig.appendChild(cv);
    const unitPx = plotW / (nG + 0.2);
    const datasets = groups.map((g, k) => ({
      data: rowPoints[r][g].map((v, i) => ({x: k + 1 + JITTER_PX[i % JITTER_PX.length] / unitPx, y: v})),
      backgroundColor: colColors[c][k],
      borderColor: '#2f2f2f',
      borderWidth: 0.8,
      pointRadius: 3.5,
      pointHoverRadius: 3.5,
      clip: false
    }));
    new Chart(cv, {
      type: 'scatter',
      data: {datasets},
      options: {
        responsive: false, animation: false, devicePixelRatio: 1, events: [],
        layout: {padding: {top: PAD, bottom: PAD, left: 0, right: padR}},
        plugins: {legend: {display: false}, tooltip: {enabled: false}},
        scales: {
          x: {type: 'linear', min: 0.4, max: nG + 0.6, bounds: 'data',
              ticks: {display: false}, grid: {display: false, drawTicks: false},
              border: {display: true, color: '#3a3a3a', width: 1},
              afterFit: s => { s.height = 0; }},
          y: {type: 'linear', min: yMin[r], max: yMax[r], bounds: 'data',
              afterBuildTicks: s => { s.ticks = tickVals.map(v => ({value: v})); },
              ticks: {autoSkip: false, padding: 2, color: '#2a2a2a', font: {family: FONT, size: 11.5},
                      callback: (v, i) => tickLabels[i]},
              grid: {display: true, drawOnChartArea: false, drawTicks: true, tickLength: 4, color: '#3a3a3a', lineWidth: 1},
              border: {display: true, color: '#3a3a3a', width: 1},
              afterFit: s => { s.width = Y_AXIS_W; }}
        }
      },
      plugins: [boxPlugin(groups.map(g => rowBoxes[r][g]), colColors[c])]
    });
  }
}

// ---------- text ----------
function addText(txt, x, y, size, extra) {
  const d = document.createElement('div');
  d.className = 't';
  d.textContent = txt;
  d.style.left = x + 'px'; d.style.top = y + 'px';
  d.style.fontSize = size + 'px';
  if (extra) Object.assign(d.style, extra);
  fig.appendChild(d);
  return d;
}
addText('a', 21, 15, 19, {fontWeight: 'bold'});
const titleX = [190, 370, 558];
columnTitles.forEach((t, i) => addText(t, titleX[i], 16, 15));
rowLabels.forEach((t, r) => addText(t, 61, (PANEL_TOP[r] + PANEL_BOTTOM[r]) / 2 - 2, 15.5, {lineHeight: '17.5px'}));
addText('% of cells', 91, 550, 14, {transform: 'translate(-50%,-50%) rotate(-90deg)'});

// ---------- legends ----------
const legTitleX = [171, 379, 551], legTitleY = [1097, 1098, 1103];
columnTitles.forEach((t, i) => addText(t, legTitleX[i], legTitleY[i], 15));

function glyph(color, cx, cy) {
  const s = document.createElementNS('http://www.w3.org/2000/svg', 'svg');
  s.setAttribute('width', 20); s.setAttribute('height', 22);
  s.style.position = 'absolute'; s.style.left = (cx - 10) + 'px'; s.style.top = (cy - 11) + 'px';
  s.innerHTML = `<line x1="10" y1="0" x2="10" y2="22" stroke="#8a8a8a" stroke-width="1"/>` +
    `<rect x="2.5" y="5.5" width="15" height="11" fill="${color}" stroke="#7a7a7a" stroke-width="1"/>` +
    `<line x1="2.5" y1="11" x2="17.5" y2="11" stroke="#555" stroke-width="1"/>` +
    `<circle cx="10" cy="11" r="3" fill="${color}" stroke="#2f2f2f" stroke-width="0.8"/>`;
  fig.appendChild(s);
}
function legendItem(label, color, gx, tx, y) {
  glyph(color, gx, y);
  const d = document.createElement('div');
  d.className = 'l'; d.textContent = label;
  d.style.left = tx + 'px'; d.style.top = (y - 7) + 'px';
  fig.appendChild(d);
}
const legRowY = [1123, 1145, 1167, 1189];
originGroups.forEach((g, i) => {
  const colA = i < 4;
  legendItem(`${g} (n = ${originN[i]})`, originColors[i], colA ? 50 : 194, colA ? 68 : 211, legRowY[colA ? i : i - 4]);
});
batchGroups.forEach((g, i) => legendItem(`${g} (n = ${batchN[i]})`, batchColors[i], 335, 353, legRowY[i]));
const sexRowY = [1130, 1152];
sexGroups.forEach((g, i) => legendItem(`${g} (n = ${sexN[i]})`, sexColors[i], 542, 561, sexRowY[i]));
</script></body></html>
